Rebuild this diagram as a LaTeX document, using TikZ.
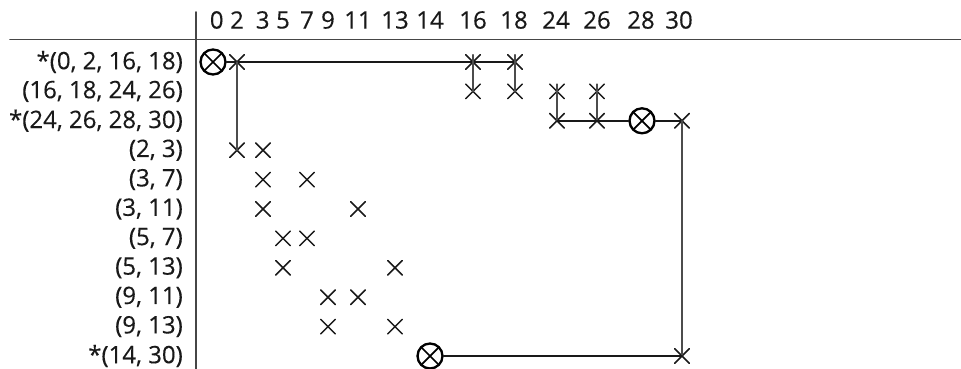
\documentclass[tikz,border=0pt]{standalone}
\usepackage{fontspec}
\setmainfont{Open Sans}[FakeBold=0.3]
\usetikzlibrary{shapes.misc}

\begin{document}
\begin{tikzpicture}[x=0.3mm,y=-0.3mm,font=\fontsize{20.5}{24}\selectfont,line cap=round,
  hit/.style={cross out,draw=black!90,line width=1.3pt,minimum size=3.9mm,inner sep=0pt},
  sel/.style={circle,draw=black,line width=2pt,minimum size=7.5mm,inner sep=0pt,
    path picture={\draw[line width=1.5pt] (path picture bounding box.north west) -- (path picture bounding box.south east)
      (path picture bounding box.north east) -- (path picture bounding box.south west);}},
  rowlab/.style={anchor=east,inner sep=0pt,text=black!90},
  collab/.style={inner sep=0pt,text=black!90},
  hlink/.style={black!90,line width=1.7pt},
  vlink/.style={black!70,line width=1.2pt}]
\useasboundingbox (0,0) rectangle (961,369);
\draw[gray!55!black,line width=1.3pt] (196,12) -- (196,369);
\draw[gray!55!black,line width=1.3pt] (10,39.5) -- (961,39.5);
\node[collab] (h0) at (216.7,20) {0};
\node[collab] (h2) at (237,20) {2};
\node[collab] (h3) at (262.7,20) {3};
\node[collab] (h5) at (283,20) {5};
\node[collab] (h7) at (307,20) {7};
\node[collab] (h9) at (328,20) {9};
\node[collab] (h11) at (358,20) {11};
\node[collab] (h13) at (395,20) {13};
\node[collab] (h14) at (430,20) {14};
\node[collab] (h16) at (473,20) {16};
\node[collab] (h18) at (514,20) {18};
\node[collab] (h24) at (556,20) {24};
\node[collab] (h26) at (597,20) {26};
\node[collab] (h28) at (641,20) {28};
\node[collab] (h30) at (679,20) {30};
\node[rowlab] (l1) at (183,62) {*(0, 2, 16, 18)};
\node[rowlab] (l2) at (183,91.4) {(16, 18, 24, 26)};
\node[rowlab] (l3) at (183,120.8) {*(24, 26, 28, 30)};
\node[rowlab] (l4) at (183,150.2) {(2, 3)};
\node[rowlab] (l5) at (183,179.6) {(3, 7)};
\node[rowlab] (l6) at (183,209) {(3, 11)};
\node[rowlab] (l7) at (183,238.4) {(5, 7)};
\node[rowlab] (l8) at (183,267.8) {(5, 13)};
\node[rowlab] (l9) at (183,297.2) {(9, 11)};
\node[rowlab] (l10) at (183,326.6) {(9, 13)};
\node[rowlab] (l11) at (183,356) {*(14, 30)};
\node[sel] (m1x0) at (213,62) {};
\node[hit] (m1x2) at (237,62) {};
\node[hit] (m1x16) at (473,62) {};
\node[hit] (m1x18) at (515,62) {};
\node[hit] (m2x16) at (473,91.4) {};
\node[hit] (m2x18) at (515,91.4) {};
\node[hit] (m2x24) at (557,91.4) {};
\node[hit] (m2x26) at (597,91.4) {};
\node[hit] (m3x24) at (557,120.8) {};
\node[hit] (m3x26) at (597,120.8) {};
\node[sel] (m3x28) at (642,120.8) {};
\node[hit] (m3x30) at (682,120.8) {};
\node[hit] (m4x2) at (237,150.2) {};
\node[hit] (m4x3) at (263,150.2) {};
\node[hit] (m5x3) at (263,179.6) {};
\node[hit] (m5x7) at (307,179.6) {};
\node[hit] (m6x3) at (263,209) {};
\node[hit] (m6x11) at (358,209) {};
\node[hit] (m7x5) at (283,238.4) {};
\node[hit] (m7x7) at (307,238.4) {};
\node[hit] (m8x5) at (283,267.8) {};
\node[hit] (m8x13) at (395,267.8) {};
\node[hit] (m9x9) at (328,297.2) {};
\node[hit] (m9x11) at (358,297.2) {};
\node[hit] (m10x9) at (328,326.6) {};
\node[hit] (m10x13) at (395,326.6) {};
\node[sel] (m11x14) at (430,356) {};
\node[hit] (m11x30) at (682,356) {};
\draw[hlink] (m1x0) -- (m1x18.center);
\draw[vlink] (m1x2.center) -- (m4x2.center);
\draw[vlink] (m1x16.north) -- (m2x16.center);
\draw[vlink] (m1x18.north) -- (m2x18.center);
\draw[vlink] (m2x24.north) -- (m3x24.center);
\draw[vlink] (m2x26.north) -- (m3x26.center);
\draw[hlink] (m3x24.center) -- (m3x28);
\draw[hlink] (m3x28) -- (m3x30.center);
\draw[vlink] (m3x30.center) -- (m11x30.center);
\draw[hlink] (m11x14) -- (m11x30.center);
\end{tikzpicture}
\end{document}
